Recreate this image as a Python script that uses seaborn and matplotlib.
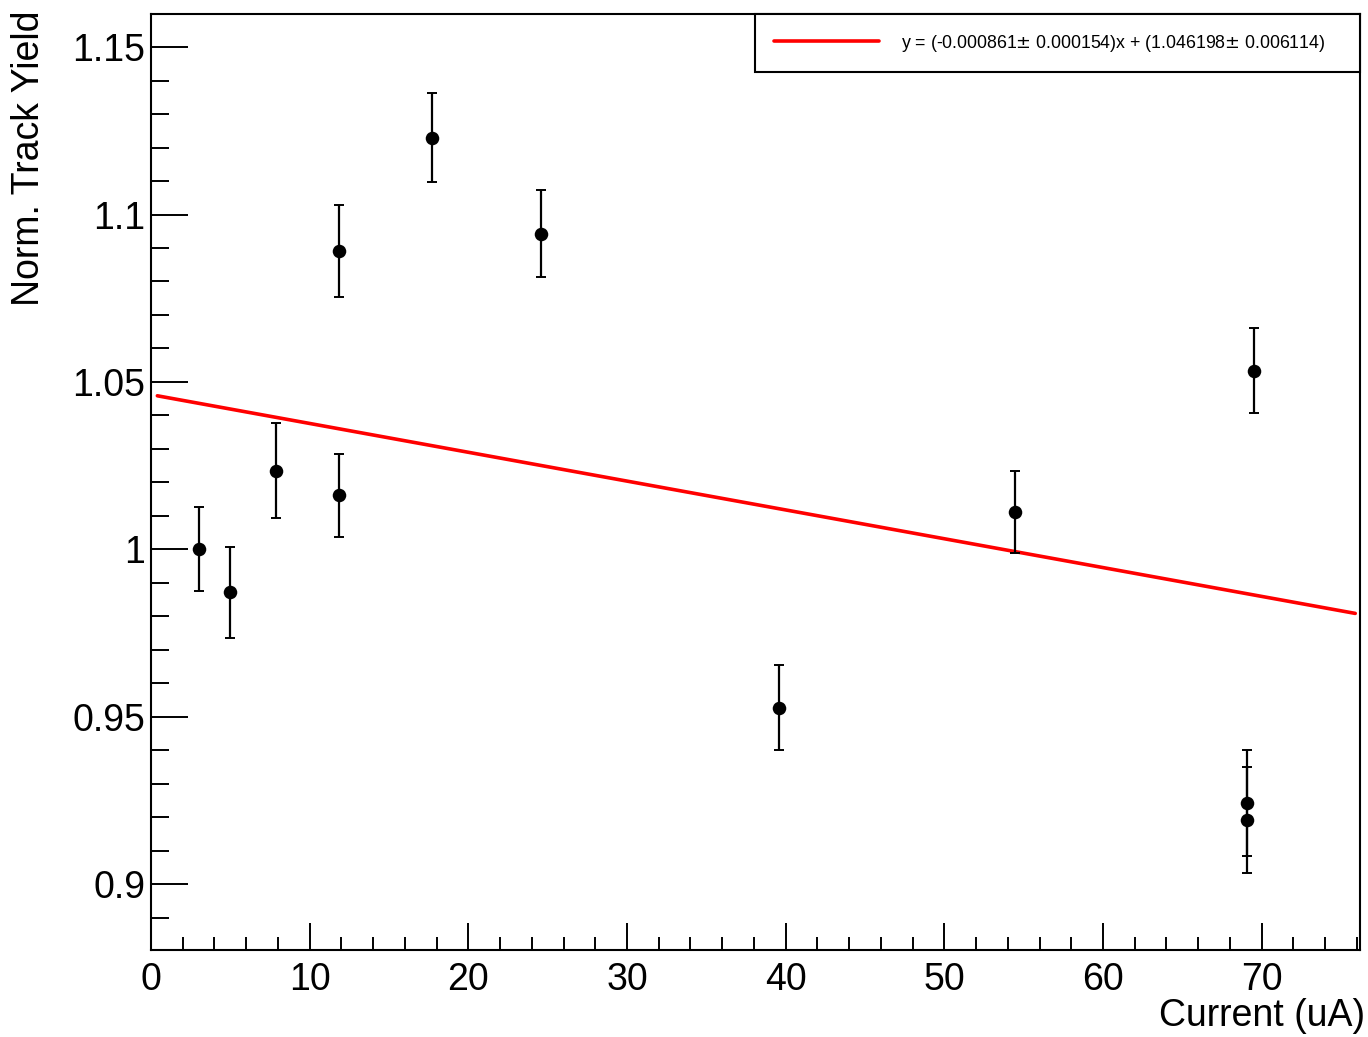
"""Normalised track yield vs beam current with linear fit."""
import numpy as np
import pandas as pd
import matplotlib
matplotlib.use("Agg")
import matplotlib.pyplot as plt
from matplotlib.ticker import MultipleLocator, FixedLocator
import seaborn as sns

# data
current = [3.0, 5.0, 7.9, 11.85, 11.85, 17.7, 24.6, 39.55, 54.45, 69.55, 69.05, 69.05]
track_yield = [1.0000, 0.9871, 1.0235, 1.0892, 1.0161, 1.1230, 1.0943,
               0.9527, 1.0111, 1.0533, 0.9242, 0.9191]
yield_err = [0.0126, 0.0135, 0.0143, 0.0137, 0.0123, 0.0134, 0.0131,
             0.0126, 0.0123, 0.0127, 0.0157, 0.0158]

# fit result
slope, slope_err = -0.000861, 0.000154
intercept, intercept_err = 1.046198, 0.006114
fit_range = [0.4, 75.9]

y_ticks = [0.9, 0.95, 1.0, 1.05, 1.1, 1.15]
y_ticklabels = ["0.9", "0.95", "1", "1.05", "1.1", "1.15"]

df = pd.DataFrame({"current": current, "yield": track_yield, "err": yield_err})
fit_x = np.array(fit_range)
fit_df = pd.DataFrame({"current": fit_x, "yield": intercept + slope * fit_x})

sns.set_style("white")
plt.rcParams["font.family"] = ["Liberation Sans", "DejaVu Sans"]
plt.rcParams["text.color"] = "black"
plt.rcParams["axes.labelcolor"] = "black"

fig = plt.figure(figsize=(13.68, 10.37), dpi=100)
ax = fig.add_axes([151 / 1368, 87 / 1037, 1209 / 1368, 936 / 1037])

label = (f"y = ({slope:.6f}$\\pm$ {slope_err:.6f})x + "
         f"({intercept:.6f}$\\pm$ {intercept_err:.6f})")
sns.lineplot(data=fit_df, x="current", y="yield", ax=ax, color="red",
             linewidth=2.6, label=label, zorder=2)

ax.errorbar(df["current"], df["yield"], yerr=df["err"], fmt="none",
            ecolor="black", elinewidth=1.6, capsize=3.5, capthick=1.4, zorder=3)
sns.scatterplot(data=df, x="current", y="yield", ax=ax, color="black",
                s=95, edgecolor="black", linewidth=0, zorder=4)

ax.set_xlim(0, 76.2)
ax.set_ylim(0.8803, 1.1599)

ax.xaxis.set_major_locator(MultipleLocator(10))
ax.xaxis.set_minor_locator(MultipleLocator(2))
ax.yaxis.set_major_locator(FixedLocator(y_ticks))
ax.set_yticklabels(y_ticklabels)
ax.yaxis.set_minor_locator(MultipleLocator(0.01))

ax.tick_params(axis="both", which="both", direction="in", width=1.4,
               colors="black", labelsize=27, top=False, right=False,
               bottom=True, left=True)
ax.tick_params(axis="x", which="major", length=19.5, pad=9)
ax.tick_params(axis="x", which="minor", length=9.5)
ax.tick_params(axis="y", which="major", length=26.5, pad=4)
ax.tick_params(axis="y", which="minor", length=13)

for sp in ax.spines.values():
    sp.set_visible(True)
    sp.set_color("black")
    sp.set_linewidth(1.5)

ax.set_xlabel("Current (uA)", fontsize=27, loc="right", color="black")
ax.set_ylabel("Norm. Track Yield", fontsize=27, loc="top", color="black")
ax.xaxis.set_label_coords(1.004, -0.051)
ax.yaxis.set_label_coords(-0.086, 1.004)

leg = ax.legend(loc="upper right", bbox_to_anchor=(0.4996, 0.9, 0.5004, 0.1),
                mode="expand", borderaxespad=0,
                fontsize=12.8, frameon=True, fancybox=False, edgecolor="black",
                handlelength=5.9, handletextpad=1.25, borderpad=1.05)
leg.get_frame().set_linewidth(1.5)
leg.get_frame().set_alpha(1)

fig.savefig("out.png", dpi=100)
